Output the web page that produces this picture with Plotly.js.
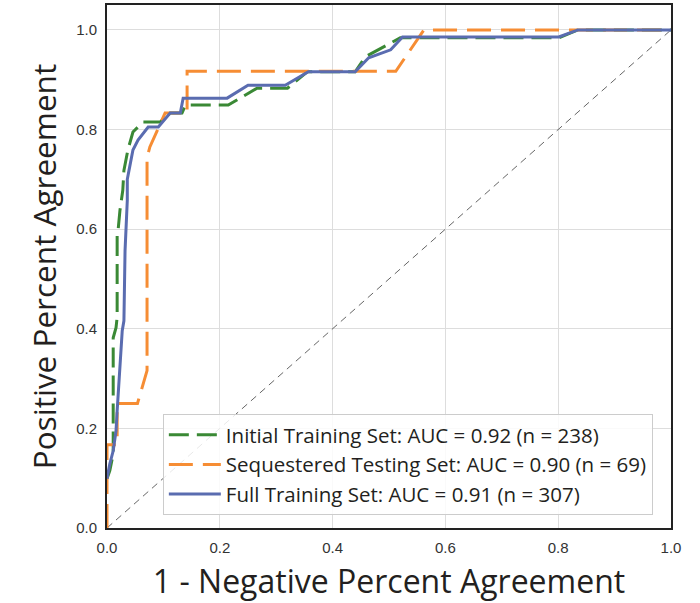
<!DOCTYPE html>
<html>
<head>
<meta charset="utf-8">
<script src="https://cdn.plot.ly/plotly-3.0.1.min.js"></script>
<style>html,body{margin:0;padding:0;background:#fff;}#chart{width:700px;height:603px;}</style>
</head>
<body>
<div id="chart"></div>
<script>
// Initial Training Set (n = 238)
const initX = [0, 0.005, 0.011, 0.011, 0.011, 0.016, 0.018, 0.018, 0.020, 0.023, 0.028, 0.030, 0.037, 0.046, 0.064, 0.094, 0.112, 0.133, 0.139, 0.215, 0.266, 0.320, 0.355, 0.440, 0.458, 0.497, 0.520, 0.801, 0.835, 1.0];
const initY = [0.099, 0.115, 0.149, 0.195, 0.382, 0.402, 0.423, 0.592, 0.602, 0.638, 0.678, 0.718, 0.759, 0.795, 0.815, 0.815, 0.833, 0.833, 0.849, 0.849, 0.883, 0.883, 0.916, 0.916, 0.946, 0.970, 0.984, 0.984, 1.0, 1.0];
// Sequestered Testing Set (n = 69)
const seqX = [0, 0, 0.018, 0.018, 0.054, 0.064, 0.071, 0.071, 0.076, 0.103, 0.142, 0.142, 0.512, 0.562, 1.0];
const seqY = [0, 0.167, 0.167, 0.25, 0.25, 0.29, 0.316, 0.744, 0.765, 0.833, 0.833, 0.917, 0.917, 1.0, 1.0];
// Full Training Set (n = 307)
const fullX = [0, 0.005, 0.011, 0.014, 0.016, 0.018, 0.020, 0.023, 0.027, 0.030, 0.032, 0.036, 0.036, 0.039, 0.046, 0.055, 0.073, 0.091, 0.112, 0.130, 0.135, 0.213, 0.250, 0.316, 0.357, 0.440, 0.464, 0.503, 0.524, 0.801, 0.835, 1.0];
const fullY = [0.099, 0.129, 0.155, 0.175, 0.195, 0.235, 0.276, 0.336, 0.396, 0.416, 0.557, 0.658, 0.700, 0.718, 0.759, 0.779, 0.805, 0.805, 0.833, 0.833, 0.863, 0.863, 0.889, 0.889, 0.916, 0.916, 0.944, 0.960, 0.986, 0.986, 1.0, 1.0];
// Chance line
const chanceX = [0, 1];
const chanceY = [0, 1];
const seriesNames = [
  'Initial Training Set: AUC = 0.92 (n = 238)',
  'Sequestered Testing Set: AUC = 0.90 (n = 69)',
  'Full Training Set: AUC = 0.91 (n = 307)'
];
const tickVals = [0, 0.2, 0.4, 0.6, 0.8, 1.0];
const tickText = ['0.0', '0.2', '0.4', '0.6', '0.8', '1.0'];
const xTitle = '1 - Negative Percent Agreement';
const yTitle = 'Positive Percent Agreement';

const NB = '\u00a0';
const traces = [
  {x: chanceX, y: chanceY, mode: 'lines', showlegend: false, hoverinfo: 'skip',
   line: {color: '#666666', width: 1, dash: '7px,5px'}},
  {x: initX, y: initY, mode: 'lines', name: seriesNames[0],
   line: {color: '#3a8935', width: 3, dash: '20px,8px'}},
  {x: seqX, y: seqY, mode: 'lines', name: seriesNames[1],
   line: {color: '#f68d34', width: 3, dash: '24px,10px'}},
  {x: fullX, y: fullY, mode: 'lines', name: seriesNames[2],
   line: {color: '#5a6cb0', width: 3}}
];

const axisCommon = {
  tickvals: tickVals, ticktext: tickText,
  showgrid: true, gridcolor: '#dddddd', gridwidth: 1,
  zeroline: false, showline: true, mirror: true, linecolor: '#222222', linewidth: 2,
  ticks: 'outside', ticklen: 5, tickcolor: 'rgba(0,0,0,0)',
  tickfont: {family: 'Liberation Sans, Arial, sans-serif', size: 15, color: '#333333'}
};

const layout = {
  width: 700, height: 603,
  margin: {l: 107, r: 29, t: 5, b: 75},
  paper_bgcolor: '#ffffff', plot_bgcolor: '#ffffff',
  showlegend: true,
  xaxis: Object.assign({}, axisCommon, {
    range: [0, 1.0],
    title: {text: NB.repeat(2) + xTitle, standoff: 16,
            font: {family: 'Open Sans, sans-serif', size: 32, color: '#231f20'}}
  }),
  yaxis: Object.assign({}, axisCommon, {
    range: [0, 1.05],
    title: {text: yTitle + NB.repeat(5), standoff: 10,
            font: {family: 'Open Sans, sans-serif', size: 31.5, color: '#231f20'}}
  }),
  legend: {
    x: 0.099, y: 0.025, xanchor: 'left', yanchor: 'bottom',
    bgcolor: 'rgba(255,255,255,0.85)', bordercolor: '#cccccc', borderwidth: 1,
    font: {family: 'Open Sans, sans-serif', size: 20.5, color: '#231f20'},
    itemwidth: 52,
    tracegroupgap: 0
  }
};

Plotly.newPlot('chart', traces, layout, {displayModeBar: false, staticPlot: true});
</script>
</body>
</html>
